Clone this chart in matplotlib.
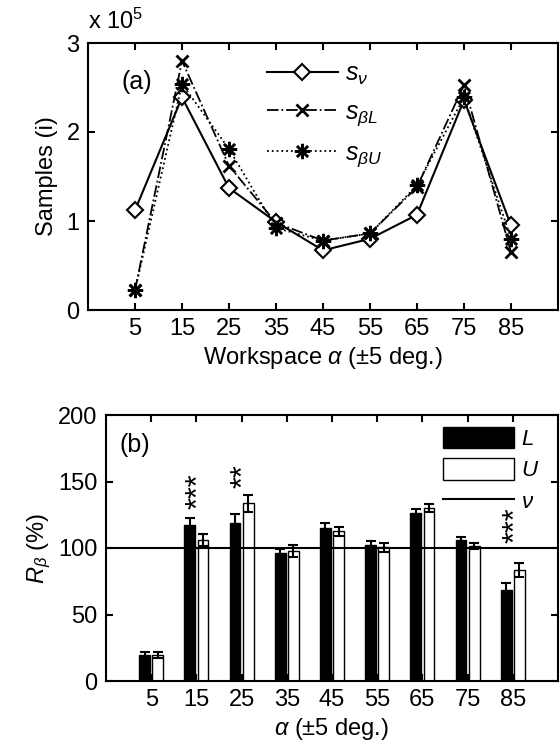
import numpy as np
import matplotlib
matplotlib.use('Agg')
import matplotlib.pyplot as plt

plt.rcParams['font.family'] = ['Liberation Sans', 'DejaVu Sans']
plt.rcParams['mathtext.fontset'] = 'custom'
plt.rcParams['mathtext.rm'] = 'Liberation Sans'
plt.rcParams['mathtext.it'] = 'Liberation Sans:italic'
plt.rcParams['font.size'] = 17

# workspace angles (deg)
alpha = [5, 15, 25, 35, 45, 55, 65, 75, 85]

# (a) samples, in units of 1e5
s_nu = [1.12, 2.39, 1.37, 0.99, 0.67, 0.80, 1.07, 2.36, 0.95]
s_bL = [0.22, 2.80, 1.62, 0.98, 0.78, 0.86, 1.38, 2.53, 0.65]
s_bU = [0.22, 2.54, 1.81, 0.92, 0.78, 0.86, 1.40, 2.39, 0.80]

# (b) R_beta (%) and errors
R_L = [19.4, 117.3, 118.6, 96.1, 115.0, 102.0, 126.3, 105.8, 68.5]
R_L_err = [2.5, 5.0, 7.0, 3.5, 4.0, 3.3, 3.2, 2.8, 5.0]
R_U = [19.5, 106.3, 133.5, 97.6, 112.6, 100.4, 130.0, 101.6, 83.4]
R_U_err = [2.5, 4.5, 6.7, 4.5, 3.5, 3.7, 3.2, 2.0, 5.0]

# significance marks: (angle, stars, y of the middle)
stars = [(15, '***', 143), (25, '**', 153.8), (85, '***', 117)]

fig = plt.figure(figsize=(5.6, 7.44), dpi=100)
fig.patch.set_facecolor('white')

# ---- (a)
ax1 = fig.add_axes([88/560, 1-310/744, 470/560, 267/744])
ax1.plot(alpha, s_nu, 'k-', lw=1.5, marker='D', ms=8.5, mfc='white', mec='k', mew=1.5,
         label=r'$s_{\nu}$')
ax1.plot(alpha, s_bL, 'k-.', lw=1.3, marker='x', ms=9, mew=2, label=r'$s_{\beta L}$')
ax1.plot(alpha, s_bU, 'k:', lw=1.3, marker=(8, 2, 0), ms=11, mew=1.8, label=r'$s_{\beta U}$')
ax1.set_xlim(-5, 95)
ax1.set_ylim(0, 3)
ax1.set_xticks(alpha)
ax1.set_yticks([0, 1, 2, 3])
ax1.set_xlabel(r'Workspace $\alpha$ (±5 deg.)', fontsize=17, labelpad=3)
ax1.set_ylabel('Samples (i)', fontsize=17, labelpad=6)
ax1.text(0, 1.035, r'x 10$^5$', transform=ax1.transAxes, ha='left', va='bottom', fontsize=17)
ax1.text(0.103, 0.854, '(a)', transform=ax1.transAxes, ha='center', va='center', fontsize=18)
leg1 = ax1.legend(loc='upper left', bbox_to_anchor=(0.38, 0.93), frameon=False,
                  handlelength=2.85, handletextpad=0.3, labelspacing=0.52,
                  borderpad=0, borderaxespad=0, fontsize=18)

# ---- (b)
ax2 = fig.add_axes([106/560, 1-681/744, 452/560, 266/744])
x = np.array(alpha)
w = 2.4
ax2.bar(x - 1.45, R_L, w, color='k', edgecolor='k', lw=1, label='L')
ax2.bar(x + 1.45, R_U, w, color='white', edgecolor='k', lw=1, label='U')
ax2.errorbar(x - 1.45, R_L, yerr=R_L_err, fmt='none', ecolor='k', elinewidth=1.5,
             capsize=3.5, capthick=1.5)
ax2.errorbar(x + 1.45, R_U, yerr=R_U_err, fmt='none', ecolor='k', elinewidth=1.5,
             capsize=3.5, capthick=1.5)
ax2.axhline(100, color='k', lw=1.5, label=r'$\nu$')
for a, s, ym in stars:
    # stacked stars drawn as one rotated string
    ax2.annotate(s, (a, ym), xytext=(2.3, 0), textcoords='offset points',
                 ha='center', va='center', rotation=90, fontsize=22)
ax2.set_xlim(-5, 95)
ax2.set_ylim(0, 200)
ax2.set_xticks(alpha)
ax2.set_yticks([0, 50, 100, 150, 200])
ax2.set_xlabel(r'$\alpha$ (±5 deg.)', fontsize=17, labelpad=3)
ax2.set_ylabel(r'$R_{\beta}$ (%)', fontsize=17, labelpad=4)
ax2.text(0.064, 0.887, '(b)', transform=ax2.transAxes, ha='center', va='center', fontsize=18)
h, l = ax2.get_legend_handles_labels()
order = [1, 2, 0]
leg2 = ax2.legend([h[i] for i in order], [r'$L$', r'$U$', r'$\nu$'], loc='upper left',
                  bbox_to_anchor=(0.745, 0.955), frameon=False, handlelength=3.2,
                  handleheight=1.1, handletextpad=0.3, labelspacing=0.36,
                  borderpad=0, borderaxespad=0, fontsize=16)

for ax in (ax1, ax2):
    for sp in ax.spines.values():
        sp.set_linewidth(1.5)
    ax.tick_params(direction='in', length=5, width=1.5, top=True, right=True,
                   labelsize=17, pad=6)

fig.savefig('out.png', dpi=100, facecolor='white')
